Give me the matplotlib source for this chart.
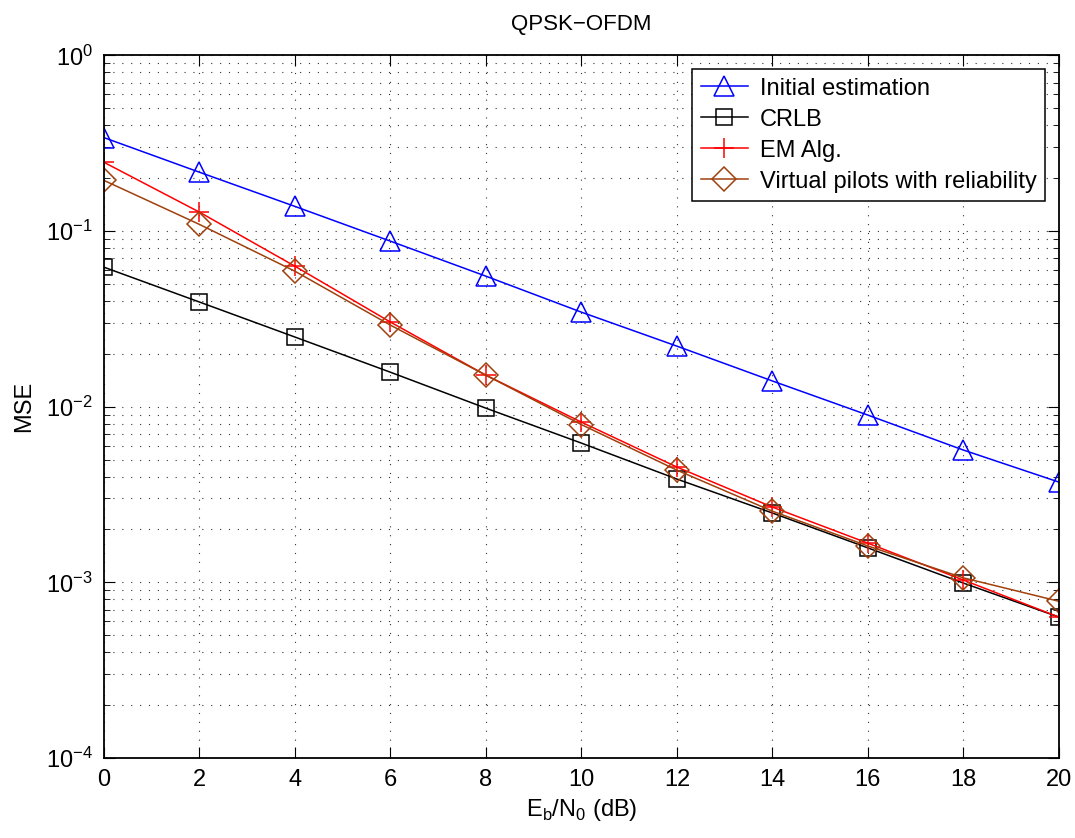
import matplotlib
matplotlib.use('Agg')
import matplotlib.pyplot as plt
import numpy as np
from matplotlib.ticker import LogLocator, NullFormatter

plt.rcParams['font.family'] = ['Liberation Sans', 'DejaVu Sans']

ebn0 = [0, 2, 4, 6, 8, 10, 12, 14, 16, 18, 20]
initial = [0.34, 0.216, 0.138, 0.0875, 0.0553, 0.0345, 0.0221, 0.0140, 0.00895, 0.00566, 0.00372]
crlb = [0.0622, 0.0394, 0.0249, 0.0157, 0.0098, 0.0062, 0.00387, 0.00248, 0.00157, 0.00099, 0.000634]
em_alg = [0.246, 0.128, 0.063, 0.0303, 0.0151, 0.00816, 0.00453, 0.00268, 0.00167, 0.00103, 0.000634]
virtual = [0.194, 0.109, 0.059, 0.0291, 0.0151, 0.0079, 0.00435, 0.00254, 0.00161, 0.00106, 0.00078]

fig = plt.figure(figsize=(10.75, 8.38), dpi=100)
ax = fig.add_axes([0.0967, 0.0955, 0.8883, 0.8385])

ax.semilogy(ebn0, initial, '-^', color='blue', mfc='none', ms=14, mew=1.1, lw=1.1, label='Initial estimation')
ax.semilogy(ebn0, crlb, '-s', color='black', mfc='none', ms=11, mew=1.1, lw=1.1, label='CRLB')
ax.semilogy(ebn0, em_alg, '-+', color='red', ms=15, mew=1.1, lw=1.1, label='EM Alg.')
ax.semilogy(ebn0, virtual, '-D', color='#a0400c', mfc='none', ms=12, mew=1.1, lw=1.1, label='Virtual pilots with reliability')

ax.set_xlim(0, 20)
ax.set_ylim(1e-4, 1)
ax.set_xticks(ebn0)
ax.yaxis.set_major_locator(LogLocator(base=10, numticks=10))
ax.yaxis.set_minor_locator(LogLocator(base=10, subs=np.arange(2, 10), numticks=20))
ax.yaxis.set_minor_formatter(NullFormatter())

# MATLAB style sparse dotted grid
dots = (0, (1, 7))
ax.grid(True, which='major', linestyle=dots, color='#333333', lw=0.8)
ax.grid(True, which='minor', axis='y', linestyle=dots, color='#333333', lw=0.8)
ax.tick_params(which='both', direction='in', top=True, right=True, labelsize=17, pad=8)
ax.tick_params(which='major', length=8)
ax.tick_params(which='minor', length=4)
for s in ax.spines.values():
    s.set_linewidth(1.3)

ax.set_title('QPSK\u2212OFDM', fontsize=16, pad=18)
ax.set_xlabel('E$_\\mathregular{b}$/N$_\\mathregular{0}$ (dB)', fontsize=17, labelpad=4)
ax.set_ylabel('MSE', fontsize=17, labelpad=8)

leg = ax.legend(loc='upper right', fontsize=17, fancybox=False, framealpha=1,
                edgecolor='black', borderaxespad=0.6, handlelength=2.0,
                handletextpad=0.5, labelspacing=0.38, borderpad=0.35)
leg.get_frame().set_linewidth(1.1)

fig.savefig('out.png', dpi=100)
